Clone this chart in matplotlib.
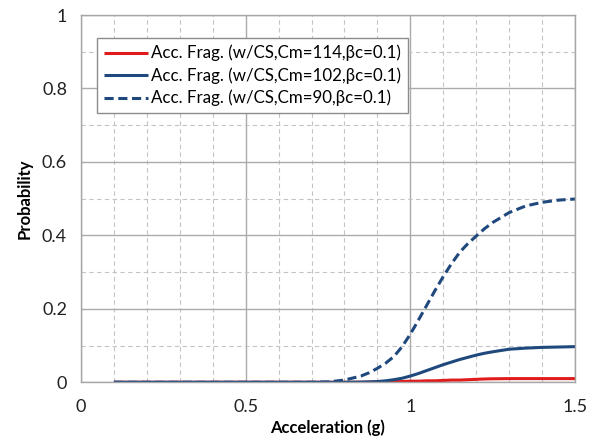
import matplotlib
matplotlib.use("Agg")
import matplotlib.pyplot as plt
from matplotlib.ticker import MultipleLocator, FixedLocator

plt.rcParams['font.family'] = ['Lato', 'DejaVu Sans']

accel = [0.10, 0.15, 0.20, 0.25, 0.30, 0.35, 0.40, 0.45, 0.50, 0.55,
         0.60, 0.65, 0.70, 0.75, 0.80, 0.85,
         0.875, 0.90, 0.925, 0.95, 0.975, 1.00, 1.025, 1.05, 1.075, 1.10,
         1.125, 1.15, 1.175, 1.20, 1.225, 1.25,
         1.30, 1.35, 1.40, 1.45, 1.50]

p_cm114 = [0, 0, 0, 0, 0, 0, 0, 0, 0, 0,
           0, 0, 0, 0, 0, 0,
           0.0005, 0.001, 0.0015, 0.002, 0.002, 0.003, 0.003, 0.004, 0.004, 0.005,
           0.006, 0.006, 0.007, 0.008, 0.009, 0.0095,
           0.010, 0.010, 0.010, 0.010, 0.010]

p_cm102 = [0, 0, 0, 0, 0, 0, 0, 0, 0, 0,
           0, 0, 0, 0, 0, 0.0005,
           0.001, 0.002, 0.004, 0.007, 0.011, 0.017, 0.024, 0.032, 0.040, 0.048,
           0.055, 0.062, 0.068, 0.074, 0.079, 0.083,
           0.090, 0.093, 0.095, 0.096, 0.097]

p_cm90 = [0, 0, 0, 0, 0, 0, 0, 0, 0, 0,
          0, 0, 0, 0.001, 0.006, 0.017,
          0.026, 0.038, 0.052, 0.070, 0.097, 0.131, 0.170, 0.210, 0.250, 0.288,
          0.323, 0.354, 0.378, 0.398, 0.418, 0.435,
          0.462, 0.480, 0.490, 0.496, 0.499]

labels = ["Acc. Frag. (w/CS,Cm=114,βc=0.1)",
          "Acc. Frag. (w/CS,Cm=102,βc=0.1)",
          "Acc. Frag. (w/CS,Cm=90,βc=0.1)"]

x_ticks = [0, 0.5, 1.0, 1.5]
x_ticklabels = ["0", "0.5", "1", "1.5"]
y_ticks = [0, 0.2, 0.4, 0.6, 0.8, 1.0]
y_ticklabels = ["0", "0.2", "0.4", "0.6", "0.8", "1"]

red = '#E01B1B'
blue = '#1F497D'

fig = plt.figure(figsize=(5.95, 4.48), dpi=100)
ax = fig.add_axes([0.1361, 0.1467, 0.8303, 0.8198])

ax.plot(accel, p_cm114, color=red, lw=2.2, label=labels[0], solid_capstyle='butt')
ax.plot(accel, p_cm102, color=blue, lw=2.2, label=labels[1], solid_capstyle='butt')
ax.plot(accel, p_cm90, color=blue, lw=2.2, ls=(0, (3, 1.5)), label=labels[2])

ax.set_xlim(0, 1.5)
ax.set_ylim(0, 1)
ax.xaxis.set_major_locator(FixedLocator(x_ticks))
ax.set_xticklabels(x_ticklabels)
ax.yaxis.set_major_locator(FixedLocator(y_ticks))
ax.set_yticklabels(y_ticklabels)
ax.xaxis.set_minor_locator(MultipleLocator(0.1))
ax.yaxis.set_minor_locator(MultipleLocator(0.1))

ax.grid(True, which='major', color='#ABABAB', lw=1.0, ls='-')
ax.grid(True, which='minor', color='#C4C4C4', lw=0.8, ls=(0, (4, 3)))
ax.set_axisbelow(True)

for s in ax.spines.values():
    s.set_color('#A6A6A6')
    s.set_linewidth(1.0)

ax.tick_params(which='both', length=0, labelsize=13, colors='#222222')
ax.tick_params(axis='y', pad=10)
ax.tick_params(axis='x', pad=12)

ax.set_xlabel("Acceleration (g)", fontsize=12, fontweight='bold', labelpad=3)
ax.set_ylabel("Probability", fontsize=12, fontweight='bold', labelpad=7)

leg = ax.legend(loc='upper left', bbox_to_anchor=(0.032, 0.937), fontsize=12.2,
                frameon=True, fancybox=False, edgecolor='#8C8C8C', framealpha=1,
                handlelength=2.6, handletextpad=0.2, borderpad=0.4, labelspacing=0.35,
                borderaxespad=0)
leg.get_frame().set_linewidth(1.0)

fig.savefig("out.png", dpi=100)
